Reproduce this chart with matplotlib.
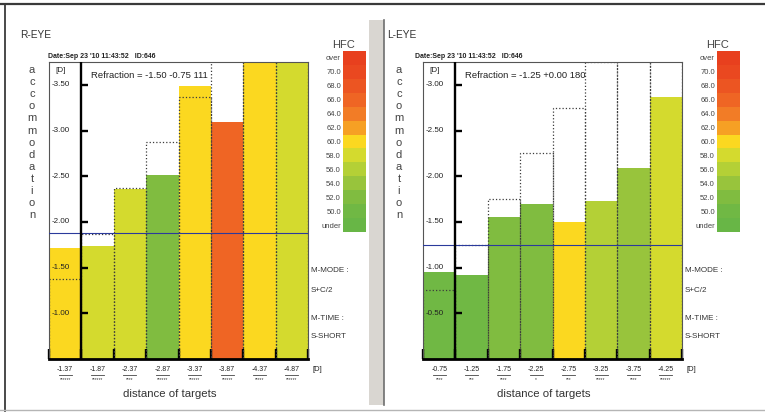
import matplotlib
matplotlib.use('Agg')
import matplotlib.pyplot as plt
import matplotlib.transforms as mtrans
from matplotlib.patches import Rectangle
from matplotlib.lines import Line2D

W, H = 765, 413
plt.rcParams['font.family'] = ['Liberation Sans', 'DejaVu Sans']

HFC_LABELS = ['over', '70.0', '68.0', '66.0', '64.0', '62.0', '60.0',
              '58.0', '56.0', '54.0', '52.0', '50.0', 'under']
HFC_COLORS = ['#e8401e', '#ea4820', '#ec5522', '#ef6524', '#f27c26', '#f6a024',
              '#fbd820', '#d4da2e', '#b4d036', '#98c43c', '#80bc40', '#70b844',
              '#68b646']

DATE = "Date:Sep 23 '10 11:43:52   ID:646"

# right eye
R_TARGETS = [-1.37, -1.87, -2.37, -2.87, -3.37, -3.87, -4.37, -4.87]
R_RESPONSE = [-1.72, -1.74, -2.36, -2.51, -3.49, -3.09, -3.95, -3.90]
R_HFC = ['60.0', '58.0', '58.0', '52.0', '60.0', '66.0', '60.0', '58.0']
R_STARS = [6, 6, 4, 6, 6, 6, 5, 6]
R_YTICKS = [-3.5, -3.0, -2.5, -2.0, -1.5, -1.0]
R_YLIM = (-0.5, -3.75)
R_REFR = (-1.50, -0.75, 111)

# left eye
L_TARGETS = [-0.75, -1.25, -1.75, -2.25, -2.75, -3.25, -3.75, -4.25]
L_RESPONSE = [-0.95, -0.92, -1.55, -1.70, -1.50, -1.73, -2.09, -2.87]
L_HFC = ['50.0', '50.0', '52.0', '52.0', '60.0', '56.0', '54.0', '58.0']
L_STARS = [4, 3, 4, 1, 3, 5, 4, 6]
L_YTICKS = [-3.0, -2.5, -2.0, -1.5, -1.0, -0.5]
L_YLIM = (0.0, -3.25)
L_REFR = (-1.25, 0.00, 180)


def fx(px):
    return px / W


def fy(py):
    return 1 - py / H


fig = plt.figure(figsize=(W / 100, H / 100), dpi=100)
fig.patch.set_facecolor('white')

# window decoration
fig.add_artist(Rectangle((fx(369), fy(405)), 15 / W, 385 / H, transform=fig.transFigure,
                         facecolor='#d9d6d1', edgecolor='none'))
fig.add_artist(Line2D([fx(384), fx(384)], [fy(20), fy(405)], transform=fig.transFigure,
                      color='#6e6e6e', lw=1.2))
fig.add_artist(Line2D([0, 1], [fy(4), fy(4)], transform=fig.transFigure, color='#3a3a3a', lw=1.6))
fig.add_artist(Line2D([fx(5), fx(5)], [fy(4), fy(411)], transform=fig.transFigure,
                      color='#3a3a3a', lw=1.3))
fig.add_artist(Line2D([0, 1], [fy(410), fy(410)], transform=fig.transFigure, color='#b5b5b5', lw=1))


def panel(x0, lx, eye, targets, resp, hfc, stars, yticks, ylim, refr):
    ax = fig.add_axes([fx(49 + x0), fy(359), 259 / W, 297 / H])
    xs = list(range(len(targets)))
    colors = [HFC_COLORS[HFC_LABELS.index(h)] for h in hfc]
    ax.bar(xs, resp, width=1, color=colors, edgecolor='none', zorder=1)
    ax.bar(xs, targets, width=1, fill=False, edgecolor='#3c3c3c', ls=':', lw=0.9, zorder=2)
    ax.axhline(refr[0] + refr[1] / 2, color='#2b3a9c', lw=0.8, zorder=3)

    ax.axvline(0.5, color='black', lw=1.7, zorder=4)
    for y in yticks:
        ax.plot([0.5, 0.72], [y, y], color='black', lw=1.7, solid_capstyle='butt', zorder=4)
        ax.text(-0.41, y, f'{y:.2f}', ha='left', va='center', fontsize=5.8, color='#222')
    tr = mtrans.blended_transform_factory(ax.transData, ax.transAxes)
    ax.text(-0.13, 0.972, '[D]', transform=tr, ha='center', va='center',
            fontsize=5.8, color='#222')

    ax.set_xlim(-0.5, len(targets) - 0.5)
    ax.set_ylim(*ylim)
    ax.set_yticks([])
    ax.set_xticks([i - 0.5 for i in range(len(targets) + 1)])
    ax.tick_params(axis='x', direction='in', length=7, width=1.7, color='black',
                   labelbottom=False)
    for side in ['top', 'left', 'right']:
        ax.spines[side].set_color('#555555')
        ax.spines[side].set_linewidth(0.8)
    ax.spines['bottom'].set_linewidth(2)
    ax.spines['bottom'].set_color('black')

    s, c, axis = refr
    ax.text(0.162, 0.956, f'Refraction = {s:.2f} {c:+.2f} {axis}', transform=ax.transAxes,
            ha='left', va='center', fontsize=6.8, color='#222')

    for i, t in enumerate(targets):
        ax.text(i, -0.036, f'{t:.2f}', transform=tr, ha='center', va='center',
                fontsize=5, color='#222')
        ax.plot([i - 0.2, i + 0.2], [-0.054, -0.054], transform=tr, clip_on=False,
                color='#444', lw=0.6)
        ax.text(i, -0.069, '*' * stars[i], transform=tr, ha='center', va='center',
                fontsize=3.5, color='#333')
    ax.text(1.035, -0.036, '[D]', transform=ax.transAxes, ha='center', va='center',
            fontsize=5.5, color='#222')
    ax.text(0.467, -0.117, 'distance of targets', transform=ax.transAxes, ha='center',
            va='center', fontsize=8.2, color='#333')

    # labels around the plot
    fig.text(fx(20 + lx), fy(35), eye, ha='left', va='center', fontsize=7.3, color='#333')
    fig.text(fx(48 + lx), fy(57), DATE, ha='left', va='center', fontsize=5,
             color='#222', fontweight='bold')
    for i, ch in enumerate('accommodation'):
        fig.text(fx(32 + lx), fy(70 + i * 12.1), ch, ha='center', va='center',
                 fontsize=8, color='#444')
    for txt, py in [('M-MODE :', 271), ('S+C/2', 290), ('M-TIME :', 318), ('S-SHORT', 336)]:
        fig.text(fx(311 + x0), fy(py), txt, ha='left', va='center', fontsize=5.8,
                 color='#333')

    # HFC colour scale
    cax = fig.add_axes([fx(343 + x0), fy(232), 23 / W, 181 / H])
    n = len(HFC_LABELS)
    cax.barh(range(n), 1, height=1, color=HFC_COLORS[::-1], edgecolor='none')
    cax.set_xlim(0, 1)
    cax.set_ylim(-0.5, n - 0.5)
    cax.set_xticks([])
    cax.set_yticks(range(n))
    cax.set_yticklabels(HFC_LABELS[::-1], fontsize=5.5, color='#444')
    cax.tick_params(axis='y', length=0, pad=1.5)
    for sp in cax.spines.values():
        sp.set_visible(False)
    fig.text(fx(344 + x0), fy(45), 'HFC', ha='center', va='center', fontsize=8, color='#444')


panel(0, 0, 'R-EYE', R_TARGETS, R_RESPONSE, R_HFC, R_STARS, R_YTICKS, R_YLIM, R_REFR)
panel(374, 367, 'L-EYE', L_TARGETS, L_RESPONSE, L_HFC, L_STARS, L_YTICKS, L_YLIM, L_REFR)

fig.savefig('out.png', dpi=100)
